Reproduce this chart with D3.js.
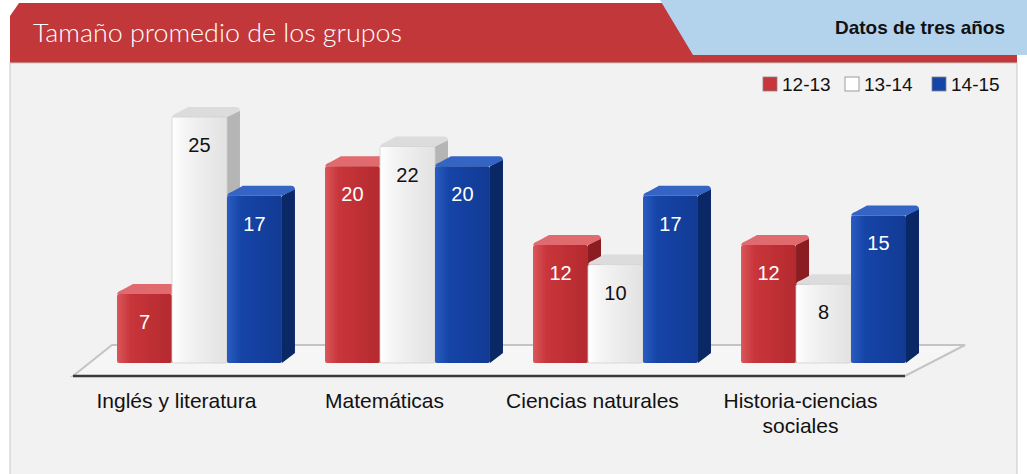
<!DOCTYPE html>
<html>
<head>
<meta charset="utf-8">
<script src="https://cdn.jsdelivr.net/npm/d3@7"></script>
<style>
  html, body { margin: 0; padding: 0; background: #ffffff; }
  svg { display: block; }
</style>
</head>
<body>
<svg id="chart"></svg>
<script>
const categories = ["Inglés y literatura", "Matemáticas", "Ciencias naturales", "Historia-ciencias sociales"];
const seriesNames = ["12-13", "13-14", "14-15"];
const values1213 = [7, 20, 12, 12];
const values1314 = [25, 22, 10, 8];
const values1415 = [17, 20, 17, 15];

function makeChart() {
    const w = 1027, h = 474;
    const svg = d3.select('#chart').attr('width', w).attr('height', h);
    const defs = svg.append('defs');

    const rows = categories.map((c, i) => ({
        cat: c,
        vals: [values1213[i], values1314[i], values1415[i]]
    }));

    // colours for each series: front gradient stops, side, top
    const palette = {
        "12-13": { front: ["#d9575b", "#c8353a", "#b42a2f"], side: "#8a1d21", top: "#e06a6d", text: "#ffffff" },
        "13-14": { front: ["#ffffff", "#f4f4f4", "#e2e2e2"], side: "#b5b5b5", top: "#dcdcdc", text: "#111111" },
        "14-15": { front: ["#2a5cc0", "#1645a8", "#113a94"], side: "#0b2866", top: "#3465c4", text: "#ffffff" }
    };
    seriesNames.forEach((s, i) => {
        const g = defs.append('linearGradient').attr('id', 'front' + i)
            .attr('x1', 0).attr('x2', 1).attr('y1', 0).attr('y2', 0);
        g.append('stop').attr('offset', '0%').attr('stop-color', palette[s].front[0]);
        g.append('stop').attr('offset', '25%').attr('stop-color', palette[s].front[1]);
        g.append('stop').attr('offset', '100%').attr('stop-color', palette[s].front[2]);
    });

    // ---- header ----
    svg.append('rect').attr('x', 0).attr('y', 0).attr('width', w).attr('height', h).attr('fill', '#ffffff');
    svg.append('path')
        .attr('d', 'M10,16 L19,3 L1017,3 L1017,63 L10,63 Z')
        .attr('fill', '#c1373a');
    svg.append('path')
        .attr('d', 'M660,0 L1027,0 L1027,55 L693,55 Z')
        .attr('fill', '#b3d3ec');
    svg.append('text')
        .attr('x', 33).attr('y', 42)
        .attr('fill', '#ffffff')
        .attr('textLength', 369)
        .attr('lengthAdjust', 'spacingAndGlyphs')
        .style('font-family', 'Lato, "Open Sans", sans-serif')
        .style('font-weight', 300)
        .style('font-size', '25px')
        .text('Tamaño promedio de los grupos');
    svg.append('text')
        .attr('x', 1005).attr('y', 34)
        .attr('text-anchor', 'end')
        .attr('fill', '#111111')
        .style('font-family', '"Liberation Sans", Arial, sans-serif')
        .style('font-weight', 'bold')
        .style('font-size', '19px')
        .text('Datos de tres años');

    // ---- panel ----
    svg.append('rect')
        .attr('x', 10).attr('y', 63).attr('width', 1007).attr('height', 420)
        .attr('fill', '#f2f2f2').attr('stroke', '#c8c8c8').attr('stroke-width', 1);

    // ---- legend ----
    const legendX = [763, 845, 932];
    const legend = svg.append('g');
    seriesNames.forEach((s, i) => {
        legend.append('rect')
            .attr('x', legendX[i]).attr('y', 77).attr('width', 14).attr('height', 14)
            .attr('fill', i === 1 ? '#ffffff' : palette[s].front[1])
            .attr('stroke', '#888888').attr('stroke-width', 0.8);
        legend.append('text')
            .attr('x', legendX[i] + 19).attr('y', 91)
            .attr('fill', '#111111')
            .style('font-family', '"Liberation Sans", Arial, sans-serif')
            .style('font-size', '19px')
            .text(s);
    });

    // ---- scales ----
    const baseY = 363;
    const yScale = d3.scaleLinear().domain([0, 25]).range([baseY, 117]);
    const xScale = d3.scaleBand().domain(categories).range([117, 906]).paddingInner(0.207).paddingOuter(0);
    const xInner = d3.scaleBand().domain(seriesNames).range([0, xScale.bandwidth()]).padding(0);
    const dx = 13, dy = -10;

    // ---- floor ----
    svg.append('path')
        .attr('d', 'M73,376 L905,376 L965,345 L112,345 Z')
        .attr('fill', '#f6f6f6').attr('stroke', '#c4c4c4').attr('stroke-width', 2);
    svg.append('line')
        .attr('x1', 73).attr('x2', 905).attr('y1', 376).attr('y2', 376)
        .attr('stroke', '#3a3a3a').attr('stroke-width', 2.5);

    // ---- bars ----
    const groups = svg.selectAll('g.group')
        .data(rows)
        .enter()
        .append('g')
        .attr('class', 'group')
        .attr('transform', d => `translate(${xScale(d.cat)},0)`);

    const bars = groups.selectAll('g.bar')
        .data(d => d.vals.map((v, i) => ({ key: seriesNames[i], idx: i, value: v })))
        .enter()
        .append('g')
        .attr('class', 'bar');

    const bw = xInner.bandwidth();
    bars.append('path') // side
        .attr('d', d => {
            const x0 = xInner(d.key) + bw, y0 = yScale(d.value);
            return `M${x0},${y0} L${x0 + dx},${y0 + dy + 3} L${x0 + dx},${baseY + dy} L${x0},${baseY} Z`;
        })
        .attr('fill', d => palette[d.key].side);
    bars.append('path') // top
        .attr('d', d => {
            const x0 = xInner(d.key), y0 = yScale(d.value);
            return `M${x0},${y0} Q${x0 + 1},${y0 - 3} ${x0 + 5},${y0 - 4} L${x0 + dx + 3},${y0 + dy} L${x0 + bw + dx - 4},${y0 + dy}
                    Q${x0 + bw + dx},${y0 + dy} ${x0 + bw + dx},${y0 + dy + 4} L${x0 + bw},${y0} Z`;
        })
        .attr('fill', d => palette[d.key].top);
    bars.append('rect') // front
        .attr('x', d => xInner(d.key))
        .attr('y', d => yScale(d.value))
        .attr('width', bw)
        .attr('height', d => baseY - yScale(d.value))
        .attr('rx', 2)
        .attr('fill', d => `url(#front${d.idx})`)
        .attr('stroke', d => d.idx === 1 ? '#d0d0d0' : 'none')
        .attr('stroke-width', 0.8);

    bars.append('text')
        .attr('x', d => xInner(d.key) + bw / 2)
        .attr('y', d => yScale(d.value) + 35)
        .attr('text-anchor', 'middle')
        .attr('fill', d => palette[d.key].text)
        .style('font-family', '"Liberation Sans", Arial, sans-serif')
        .style('font-size', '20px')
        .text(d => d.value);

    // ---- category labels ----
    const labels = svg.append('g');
    const labelLines = {
        "Historia-ciencias sociales": ["Historia-ciencias", "sociales"]
    };
    categories.forEach(c => {
        const cx = xScale(c) + xScale.bandwidth() / 2 - 23;
        const lines = labelLines[c] || [c];
        const t = labels.append('text')
            .attr('text-anchor', 'middle')
            .attr('fill', '#111111')
            .style('font-family', '"Liberation Sans", Arial, sans-serif')
            .style('font-size', '21px');
        lines.forEach((l, j) => {
            t.append('tspan').attr('x', cx).attr('y', 408 + j * 25).text(l);
        });
    });
}

window.onload = function() {
    makeChart();
}
</script>
</body>
</html>
